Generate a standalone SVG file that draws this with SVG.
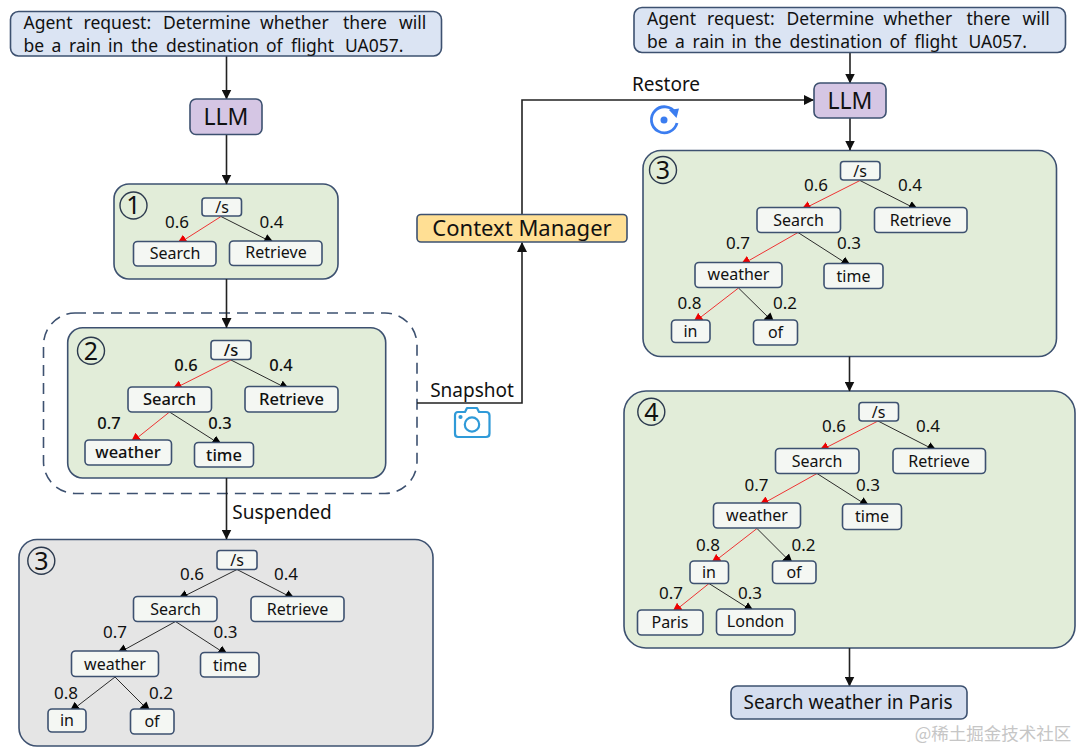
<svg xmlns="http://www.w3.org/2000/svg" width="1080" height="751" viewBox="0 0 1080 751">
<style>
text{font-family:"Noto Sans","DejaVu Sans",sans-serif;fill:#111;text-anchor:middle}
.st{stroke:#3d5170;stroke-width:1.6}
.req{fill:#dbe4f3}.llm{fill:#d5c6e4}.green{fill:#e2edd9}.gray{fill:#e5e5e5}
.n{fill:#f4f7f3;stroke:#3d5170;stroke-width:1.6}
.t{font-size:16px}.p{font-size:17px}.b{font-size:16.500px;font-weight:500}
.big{font-size:19px}.llmt{font-size:23px}.num{font-size:25px}
.lead{font-size:17.500px;text-anchor:start}
.c{fill:none;stroke:#222;stroke-width:1.6}
.e{fill:none;stroke:#2b2b2b;stroke-width:1}
.r{fill:none;stroke:#ee3333;stroke-width:1}
.badge{fill:none;stroke:#2c3a4e;stroke-width:1.4}
</style>
<defs>
<marker id="ah" markerUnits="userSpaceOnUse" markerWidth="11" markerHeight="10" refX="9.500" refY="5" orient="auto"><path d="M0 0L10 5L0 10Z" fill="#111"/></marker>
<marker id="tb" markerUnits="userSpaceOnUse" markerWidth="12" markerHeight="11" refX="8.500" refY="5.500" orient="auto"><path d="M0 0.500L11 5.500L0 10.500Z" fill="#000"/></marker>
<marker id="tr" markerUnits="userSpaceOnUse" markerWidth="12" markerHeight="11" refX="8.500" refY="5.500" orient="auto"><path d="M0 0.500L11 5.500L0 10.500Z" fill="#ee0000"/></marker>
</defs>

<g id="panel-1"><rect class="st green" x="114" y="184" width="224" height="95" rx="15"/><circle class="badge" cx="133.500" cy="205.500" r="13.500"/><text class="num" x="133.500" y="214">1</text></g>
<path id="panel-2-boundary" d="M75 313H385A32 32 0 0 1 417 345V461A32 32 0 0 1 385 493.500H75A32 32 0 0 1 43.500 461V345A32 32 0 0 1 75 313Z" fill="none" stroke="#3d5170" stroke-width="1.6" stroke-dasharray="11 7"/>
<g id="panel-2"><rect class="st green" x="67.700" y="327.700" width="318" height="150.300" rx="15"/><circle class="badge" cx="91" cy="350.700" r="13.500"/><text class="num" x="91" y="359.500">2</text></g>
<g id="panel-3-left"><rect class="st gray" x="19" y="539.500" width="414" height="206.500" rx="18"/><circle class="badge" cx="41.300" cy="560.700" r="13.500"/><text class="num" x="41.300" y="569.500">3</text></g>
<g id="panel-3-right"><rect class="st green" x="643" y="150.500" width="413.500" height="206" rx="18"/><circle class="badge" cx="663" cy="170" r="13.500"/><text class="num" x="663" y="179">3</text></g>
<g id="panel-4"><rect class="st green" x="624" y="391" width="451" height="257" rx="22"/><circle class="badge" cx="651.300" cy="411.700" r="13.500"/><text class="num" x="651.300" y="420.500">4</text></g>

<g id="connectors">
<path class="c" marker-end="url(#ah)" d="M226.500 56V99"/>
<path class="c" marker-end="url(#ah)" d="M226.500 134.500V184"/>
<path class="c" marker-end="url(#ah)" d="M226.500 279V327.500"/>
<path class="c" marker-end="url(#ah)" d="M226.500 478V539"/>
<path class="c" marker-end="url(#ah)" d="M417 403H522V242.500"/>
<path class="c" marker-end="url(#ah)" d="M522 214.500V100H813.500"/>
<path class="c" marker-end="url(#ah)" d="M850 52.500V83"/>
<path class="c" marker-end="url(#ah)" d="M850 118V150"/>
<path class="c" marker-end="url(#ah)" d="M849.500 356.500V391"/>
<path class="c" marker-end="url(#ah)" d="M849.500 648V686"/>
<path class="r" marker-end="url(#tr)" d="M221 216.500L178.500 243.500"/><path class="e" marker-end="url(#tb)" d="M221 216.500L272.500 242.500"/>
<path class="r" marker-end="url(#tr)" d="M231 360L173.500 389"/><path class="e" marker-end="url(#tb)" d="M231 360L288 389"/>
<path class="r" marker-end="url(#tr)" d="M169.500 412L132 442"/><path class="e" marker-end="url(#tb)" d="M169.500 412L220.500 444.500"/>
<path class="e" marker-end="url(#tb)" d="M237 569.500L179.500 598.500"/><path class="e" marker-end="url(#tb)" d="M237 569.500L293.500 598.500"/>
<path class="e" marker-end="url(#tb)" d="M175.500 621.500L118.500 653"/><path class="e" marker-end="url(#tb)" d="M175.500 621.500L226.500 654.500"/>
<path class="e" marker-end="url(#tb)" d="M115 677L71 711"/><path class="e" marker-end="url(#tb)" d="M115 677L149 711"/>
<path class="r" marker-end="url(#tr)" d="M860 180.500L802.500 209.500"/><path class="e" marker-end="url(#tb)" d="M860 180.500L917 209.500"/>
<path class="r" marker-end="url(#tr)" d="M798 232.500L742 264.500"/><path class="e" marker-end="url(#tb)" d="M798 232.500L849.500 265.500"/>
<path class="r" marker-end="url(#tr)" d="M738.500 288L694.500 322"/><path class="e" marker-end="url(#tb)" d="M738.500 288L773 322"/>
<path class="r" marker-end="url(#tr)" d="M878 421L820.500 450.500"/><path class="e" marker-end="url(#tb)" d="M878 421L935.500 450.500"/>
<path class="r" marker-end="url(#tr)" d="M817 473.500L760.500 505"/><path class="e" marker-end="url(#tb)" d="M817 473.500L868 506"/>
<path class="r" marker-end="url(#tr)" d="M757 528.500L712.500 563"/><path class="e" marker-end="url(#tb)" d="M757 528.500L791.500 563"/>
<path class="r" marker-end="url(#tr)" d="M709 583.500L673.500 612"/><path class="e" marker-end="url(#tb)" d="M709 583.500L752.500 611"/>
</g>

<g id="request-left"><rect class="st req" x="10.500" y="11.500" width="431" height="44.500" rx="8"/>
<text class="lead" y="28.500"><tspan x="23.500">Agent</tspan><tspan x="83.500">request:</tspan><tspan x="163">Determine</tspan><tspan x="260">whether</tspan><tspan x="343">there</tspan><tspan x="399">will</tspan></text>
<text class="lead" y="51.500"><tspan x="23.500">be</tspan><tspan x="51.500">a</tspan><tspan x="69">rain</tspan><tspan x="108">in</tspan><tspan x="131">the</tspan><tspan x="166">destination</tspan><tspan x="266">of</tspan><tspan x="291">flight</tspan><tspan x="345">UA057.</tspan></text></g>
<g id="llm-left"><rect class="st llm" x="190" y="99" width="72" height="35.500" rx="6"/><text class="llmt" x="226" y="125">LLM</text></g>
<g id="request-right"><rect class="st req" x="634" y="7.500" width="431.500" height="45" rx="8"/>
<text class="lead" y="25"><tspan x="647">Agent</tspan><tspan x="707">request:</tspan><tspan x="786.500">Determine</tspan><tspan x="883.500">whether</tspan><tspan x="966.500">there</tspan><tspan x="1022.500">will</tspan></text>
<text class="lead" y="48"><tspan x="647">be</tspan><tspan x="675">a</tspan><tspan x="692.500">rain</tspan><tspan x="731.500">in</tspan><tspan x="754.500">the</tspan><tspan x="789.500">destination</tspan><tspan x="889.500">of</tspan><tspan x="914.500">flight</tspan><tspan x="968.500">UA057.</tspan></text></g>
<g id="llm-right"><rect class="st llm" x="814" y="83" width="72" height="35" rx="6"/><text class="llmt" x="850" y="109">LLM</text></g>
<g id="context-manager"><rect class="st" fill="#ffdf94" x="417" y="214.500" width="210" height="27.500" rx="4"/><text x="522" y="236" font-size="22">Context Manager</text></g>
<g id="result"><rect class="st" fill="#d5deef" x="731" y="686" width="236" height="33" rx="6"/><text class="big" x="848" y="709">Search weather in Paris</text></g>

<g id="tree-1">
<rect class="n" x="202" y="198" width="39.500" height="18" rx="3"/><text class="t" x="222" y="213">/s</text>
<rect class="n" x="133.500" y="241.500" width="82.500" height="24.500" rx="4"/><text class="t" x="175" y="259">Search</text>
<rect class="n" x="229.500" y="241" width="92.500" height="24.500" rx="4"/><text class="t" x="276" y="258">Retrieve</text>
<text class="p" x="177" y="228">0.6</text><text class="p" x="271.500" y="228">0.4</text></g>
<g id="tree-2">
<rect class="n" x="211" y="340.500" width="40" height="19" rx="3"/><text class="b" x="231" y="356">/s</text>
<rect class="n" x="128" y="387" width="83.500" height="25" rx="4"/><text class="b" x="169.500" y="405">Search</text>
<rect class="n" x="245" y="386.500" width="93" height="25.500" rx="4"/><text class="b" x="291.500" y="405">Retrieve</text>
<rect class="n" x="85" y="440" width="86.500" height="25" rx="4"/><text class="b" x="128" y="458">weather</text>
<rect class="n" x="194.500" y="442.500" width="59" height="24.500" rx="4"/><text class="b" x="224" y="460.500">time</text>
<text class="b" x="186" y="370.500">0.6</text><text class="b" x="281" y="370.500">0.4</text><text class="b" x="109" y="429">0.7</text><text class="b" x="220" y="429">0.3</text></g>
<g id="tree-3-left">
<rect class="n" x="217" y="550.500" width="40" height="19" rx="3"/><text class="t" x="237" y="566">/s</text>
<rect class="n" x="133.500" y="596.500" width="83.500" height="25" rx="4"/><text class="t" x="175.500" y="614.500">Search</text>
<rect class="n" x="251" y="596.500" width="93" height="25" rx="4"/><text class="t" x="297.500" y="614.500">Retrieve</text>
<rect class="n" x="71.500" y="651" width="87" height="25.500" rx="4"/><text class="t" x="115" y="669.500">weather</text>
<rect class="n" x="200.500" y="652.500" width="58.500" height="24.500" rx="4"/><text class="t" x="230" y="670.500">time</text>
<rect class="n" x="48" y="709" width="38" height="23" rx="4"/><text class="t" x="67" y="726">in</text>
<rect class="n" x="130.500" y="709" width="43.500" height="25" rx="4"/><text class="t" x="152" y="727">of</text>
<text class="p" x="192" y="580">0.6</text><text class="p" x="286" y="580">0.4</text><text class="p" x="115" y="638">0.7</text><text class="p" x="225.500" y="638">0.3</text><text class="p" x="66" y="699">0.8</text><text class="p" x="161" y="699">0.2</text></g>
<g id="tree-3-right">
<rect class="n" x="840.500" y="161.500" width="39.500" height="18.500" rx="3"/><text class="t" x="860" y="176.500">/s</text>
<rect class="n" x="757" y="207.500" width="83.500" height="25" rx="4"/><text class="t" x="798.500" y="225.500">Search</text>
<rect class="n" x="874.500" y="207.500" width="92.500" height="25" rx="4"/><text class="t" x="920.500" y="225.500">Retrieve</text>
<rect class="n" x="695" y="262.500" width="87" height="25" rx="4"/><text class="t" x="738.500" y="280">weather</text>
<rect class="n" x="824" y="263.500" width="59" height="25" rx="4"/><text class="t" x="853.500" y="281.500">time</text>
<rect class="n" x="671.500" y="320" width="38.500" height="22.500" rx="4"/><text class="t" x="690.500" y="337">in</text>
<rect class="n" x="753.500" y="320" width="44" height="25" rx="4"/><text class="t" x="775.500" y="338">of</text>
<text class="p" x="816" y="191">0.6</text><text class="p" x="910" y="191">0.4</text><text class="p" x="738" y="249">0.7</text><text class="p" x="849" y="249">0.3</text><text class="p" x="689.500" y="308.500">0.8</text><text class="p" x="785" y="308.500">0.2</text></g>
<g id="tree-4">
<rect class="n" x="859" y="402.500" width="39.500" height="18.500" rx="3"/><text class="t" x="878.500" y="417.500">/s</text>
<rect class="n" x="775.500" y="448.500" width="83.500" height="25" rx="4"/><text class="t" x="817" y="466.500">Search</text>
<rect class="n" x="893" y="448.500" width="92.500" height="25" rx="4"/><text class="t" x="939" y="466.500">Retrieve</text>
<rect class="n" x="713.500" y="503" width="87" height="25" rx="4"/><text class="t" x="757" y="521">weather</text>
<rect class="n" x="842.500" y="504" width="59" height="25.500" rx="4"/><text class="t" x="872" y="522">time</text>
<rect class="n" x="690" y="561" width="38.500" height="22.500" rx="4"/><text class="t" x="709" y="578">in</text>
<rect class="n" x="772.500" y="561" width="43.500" height="22.500" rx="4"/><text class="t" x="794" y="578">of</text>
<rect class="n" x="637.500" y="610" width="65.500" height="25" rx="4"/><text class="t" x="670" y="628">Paris</text>
<rect class="n" x="716.500" y="609" width="78.500" height="26" rx="4"/><text class="t" x="755.500" y="627">London</text>
<text class="p" x="834" y="432">0.6</text><text class="p" x="928" y="432">0.4</text><text class="p" x="756.500" y="490.500">0.7</text><text class="p" x="868" y="490.500">0.3</text><text class="p" x="708" y="551">0.8</text><text class="p" x="803.500" y="551">0.2</text><text class="p" x="671" y="599">0.7</text><text class="p" x="750" y="599">0.3</text></g>

<g id="labels">
<text class="big" x="472" y="397">Snapshot</text>
<text class="big" x="666" y="91">Restore</text>
<text class="big" x="282" y="519">Suspended</text>
</g>
<g id="icon-snapshot" fill="none" stroke="#2f9ad8" stroke-width="2.200" stroke-linejoin="round">
<path d="M458 412H465L467 408H477L479 412H486Q489.500 412 489.500 415.500V433.500Q489.500 437 486 437H458Q455 437 455 433.500V415.500Q455 412 458 412Z"/>
<circle cx="472" cy="424.500" r="7.200"/><circle cx="460.500" cy="417" r="1" fill="#2f9ad8"/></g>
<g id="icon-restore"><path d="M675.500 113A13 13 0 1 0 677 123" fill="none" stroke="#3b7df0" stroke-width="2.800"/><path d="M669 110L679 108.500L676.500 118Z" fill="#3b7df0"/><circle cx="664" cy="120" r="3.500" fill="#3b7df0"/></g>
<text id="watermark" x="993" y="740" font-size="17.500" style="font-family:'Noto Sans CJK SC',sans-serif;fill:#c6c6c6">@稀土掘金技术社区</text>
</svg>
